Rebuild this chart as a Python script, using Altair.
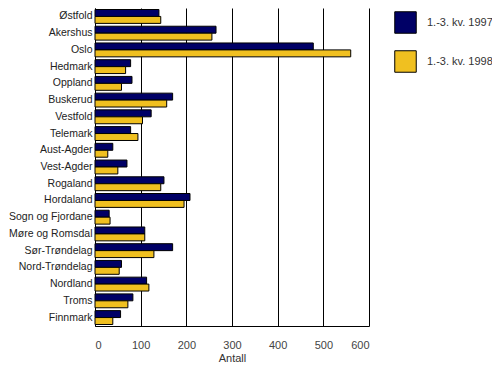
import altair as alt
import pandas as pd

counties = ["Østfold", "Akershus", "Oslo", "Hedmark", "Oppland", "Buskerud", "Vestfold",
            "Telemark", "Aust-Agder", "Vest-Agder", "Rogaland", "Hordaland", "Sogn og Fjordane",
            "Møre og Romsdal", "Sør-Trøndelag", "Nord-Trøndelag", "Nordland", "Troms", "Finnmark"]
series = ["1.-3. kv. 1997", "1.-3. kv. 1998"]
v1997 = [140, 265, 478, 78, 81, 170, 123, 78, 39, 70, 151, 208, 31, 109, 170, 58, 113, 83, 56]
v1998 = [144, 256, 560, 67, 58, 157, 104, 94, 28, 50, 144, 195, 33, 109, 129, 53, 118, 72, 39]
x_ticks = [0, 100, 200, 300, 400, 500, 600]
colors = ["#000066", "#F0C020"]

rows = []
for c, a, b in zip(counties, v1997, v1998):
    rows.append({"fylke": c, "serie": series[0], "antall": a})
    rows.append({"fylke": c, "serie": series[1], "antall": b})
df = pd.DataFrame(rows)

font = "Liberation Sans"

chart = alt.Chart(df).mark_bar(stroke="black", strokeWidth=1).encode(
    y=alt.Y("fylke:N", sort=counties, title=None,
            scale=alt.Scale(paddingInner=0.17, paddingOuter=0.09),
            axis=alt.Axis(ticks=False, labelPadding=3, labelFontSize=10.5, labelFont=font,
                          labelColor="#222222", domainColor="black", grid=False)),
    yOffset=alt.YOffset("serie:N", sort=series),
    x=alt.X("antall:Q", title="Antall",
            scale=alt.Scale(domain=[0, 600], nice=False),
            axis=alt.Axis(values=x_ticks, ticks=False, labelPadding=13, labelFontSize=11,
                          labelFont=font, labelColor="#444444", titleFont=font,
                          titleFontSize=11, titleFontWeight="normal", titleColor="#333333",
                          titlePadding=2, grid=True, gridColor="black", gridOpacity=1,
                          domainColor="black")),
    color=alt.Color("serie:N", sort=series,
                    scale=alt.Scale(domain=series, range=colors),
                    legend=alt.Legend(title=None, orient="none", legendX=299, legendY=3,
                                      symbolType="square", symbolSize=462,
                                      symbolStrokeColor="black", symbolStrokeWidth=1,
                                      symbolOpacity=1, rowPadding=12, labelOffset=10,
                                      labelFontSize=11, labelFont=font, labelColor="#333333",
                                      padding=0)),
).properties(
    width=274, height=318,
    padding={"left": 87, "top": 0, "right": 123, "bottom": 48},
    autosize=alt.AutoSizeParams(type="none"),
).configure_view(stroke=None).configure_axis(gridWidth=1, domainWidth=1)

chart.save("out.html", embed_options={"renderer": "svg", "actions": False})
